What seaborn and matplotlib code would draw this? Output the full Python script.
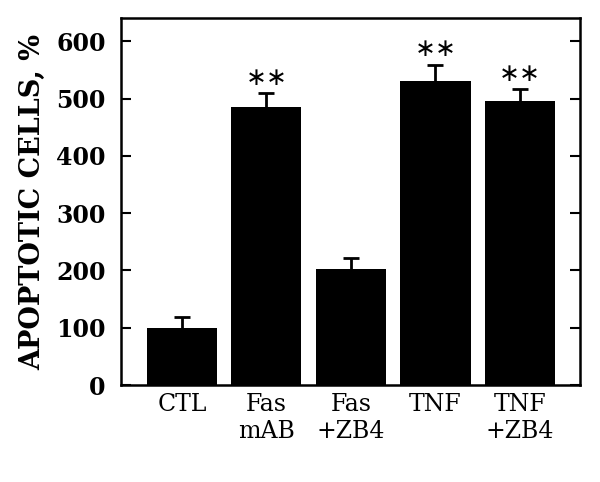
import numpy as np
import pandas as pd
import matplotlib
matplotlib.use("Agg")
import matplotlib.pyplot as plt
import seaborn as sns

# values
groups = ["CTL", "Fas\nmAB", "Fas\n+ZB4", "TNF", "TNF\n+ZB4"]
apoptotic = [100, 486, 203, 531, 495]
sem = [18, 23, 19, 28, 21]
marks = ["", "∗∗", "", "∗∗", "∗∗"]

df = pd.DataFrame({"group": groups, "pct": apoptotic})

sns.set_style("ticks")
plt.rcParams["font.family"] = ["DejaVu Serif"]
for k in ["text.color", "axes.labelcolor", "xtick.color", "ytick.color",
          "axes.edgecolor"]:
    plt.rcParams[k] = "black"

fig = plt.figure(figsize=(6, 4.82), dpi=100)
ax = fig.add_axes([0.2017, 0.201, 0.765, 0.761])

sns.barplot(data=df, x="group", y="pct", color="black", width=0.83,
            saturation=1, linewidth=0, ax=ax)

centers = [p.get_x() + p.get_width() / 2 for p in ax.patches]
eb = ax.errorbar(centers, apoptotic, yerr=[np.zeros(len(sem)), sem], fmt="none",
                 ecolor="black", elinewidth=2, capsize=6, capthick=2)
# only the upper cap is wanted
eb[1][0].set_visible(False)

for xc, v, e, m in zip(centers, apoptotic, sem, marks):
    if m:
        ax.text(xc, v + e + 27, m, ha="center", va="center", fontsize=18,
                family="DejaVu Sans")

ax.set_ylim(0, 640)
ax.set_xlim(-0.72, 4.71)
ax.set_yticks(range(0, 601, 100))
ax.set_xlabel("")
ax.set_ylabel("APOPTOTIC CELLS, %", fontsize=19.5, fontweight="bold", labelpad=7)

ax.tick_params(axis="y", direction="in", length=7, width=1.5, right=True,
               labelsize=17, pad=11)
for t in ax.get_yticklabels():
    t.set_fontweight("bold")
ax.tick_params(axis="x", length=0, labelsize=17, pad=6)
for s in ax.spines.values():
    s.set_visible(True)
    s.set_linewidth(1.8)

fig.savefig("out.png", dpi=100)
